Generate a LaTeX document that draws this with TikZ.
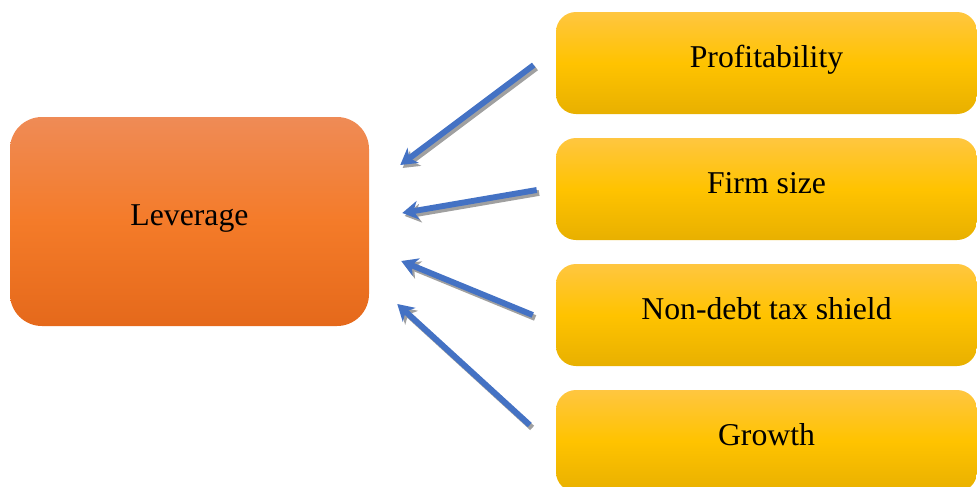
\documentclass[tikz,border=0pt]{standalone}
\usepackage{fontspec}
\setmainfont{Liberation Serif}
\usetikzlibrary{arrows.meta}

\definecolor{levtop}{HTML}{EF8B56}
\definecolor{levmid}{HTML}{F47B29}
\definecolor{levbot}{HTML}{E5691B}
\definecolor{factop}{HTML}{FFC640}
\definecolor{facmid}{HTML}{FFC300}
\definecolor{facbot}{HTML}{E8B000}
\definecolor{arrowblue}{HTML}{4472C4}
\definecolor{shadowgrey}{HTML}{A0A0A0}

\tikzset{
    levbox/.style={rounded corners=24pt, minimum width=269.25pt, minimum height=156.75pt,
        top color=levtop, bottom color=levbot, middle color=levmid,
        font=\fontsize{23.8}{28}\selectfont, text height=0.8em, text depth=0.2em},
    factorbox/.style={rounded corners=15pt, minimum width=315.75pt, minimum height=76.5pt,
        top color=factop, bottom color=facbot, middle color=facmid,
        font=\fontsize{23.8}{28}\selectfont, text height=0.8em, text depth=0.2em},
    arrowline/.style={line width=4.4pt, arrowblue,
        -{Stealth[length=12pt,width=14pt,inset=3.5pt]}},
    arrowshadow/.style={arrowline, shadowgrey, transform canvas={shift={(1.8pt,-2.2pt)}}},
}

\begin{document}
\begin{tikzpicture}[x=0.75pt, y=-0.75pt]
                    \useasboundingbox (0,0) rectangle (977,486);
                    \node [levbox] (lev) at (189.5,221.5) {Leverage};
                    \foreach \name/\y/\txt in {prof/63/Profitability, size/189/Firm size,
                            ntds/315/Non-debt tax shield, grow/441/Growth}
                        \node [factorbox] (\name) at (766.5,\y) {\txt};
                    \foreach \style in {arrowshadow, arrowline} {
                        \draw [\style] ([shift={(-22,2)}]prof.west) -- ([shift={(31,-56.5)}]lev.east);
                        \draw [\style] ([shift={(-19,1)}]size.west) -- ([shift={(33,-8.5)}]lev.east);
                        \draw [\style] ([shift={(-23,0)}]ntds.west) -- ([shift={(32,39.5)}]lev.east);
                        \draw [\style] ([shift={(-26,-16)}]grow.west) -- ([shift={(28,82.5)}]lev.east);
                    }
\end{tikzpicture}
\end{document}
